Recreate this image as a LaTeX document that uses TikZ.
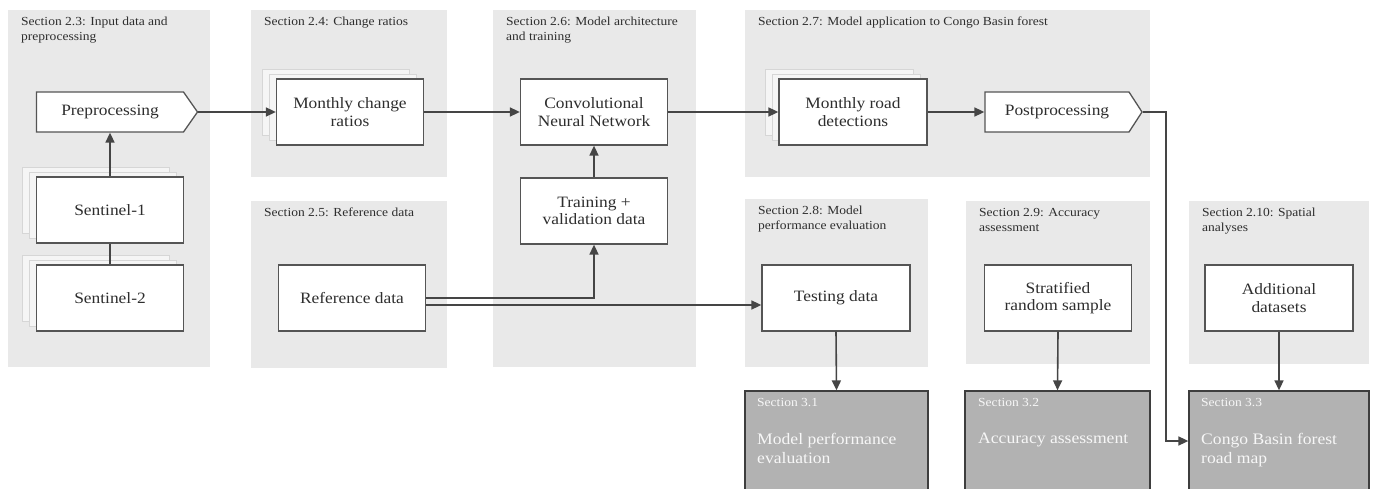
\documentclass[tikz,border=0pt]{standalone}
\usepackage{fontspec}
\setmainfont[FakeStretch=1.1]{Liberation Serif}
\usetikzlibrary{arrows.meta,shapes.symbols,shadows}
\definecolor{panelgray}{HTML}{E9E9E9}
\definecolor{boxline}{HTML}{555555}
\definecolor{linkgray}{HTML}{454545}
\definecolor{textgray}{HTML}{2E2E2E}
\definecolor{sheetfill}{HTML}{F5F5F5}
\definecolor{sheetline}{HTML}{D6D6D6}
\definecolor{resultfill}{HTML}{B2B2B2}
\definecolor{resultline}{HTML}{3E3E3E}
\definecolor{resulttext}{HTML}{F7F7F7}
\begin{document}
\begin{tikzpicture}[x=1pt,y=-1pt,
  panel/.style={fill=panelgray},
  seclabel/.style={anchor=north west,inner sep=0pt,align=left,text=textgray,
    font=\fontsize{12.3}{15}\selectfont},
  box/.style={draw=boxline,fill=white,line width=1.3pt,inner sep=0pt,align=center,
    text=textgray,font=\fontsize{15.8}{17.5}\selectfont},
  stack/.style={double copy shadow={shadow xshift=-7pt,shadow yshift=5pt,
    fill=sheetfill,draw=sheetline,line width=0.9pt}},
  arrowbox/.style={box,shape=signal,signal to=east,signal from=nowhere},
  result/.style={draw=resultline,fill=resultfill,line width=1.3pt},
  restag/.style={anchor=north west,inner sep=0pt,text=resulttext,
    font=\fontsize{12.3}{15}\selectfont},
  restitle/.style={anchor=north west,inner sep=0pt,align=left,text=resulttext,
    font=\fontsize{16}{19}\selectfont},
  link/.style={draw=linkgray,line width=1.6pt},
  arr/.style={link,-{Triangle[length=10pt,width=9pt]}}
]
\useasboundingbox (0,0) rectangle (1373,489);

% section panels
\fill[panel] (8,10) rectangle (210,367);
\fill[panel] (251,10) rectangle (447,177);
\fill[panel] (251,201) rectangle (447,368);
\fill[panel] (493,10) rectangle (696,367);
\fill[panel] (745,10) rectangle (1150,177);
\fill[panel] (745,199) rectangle (928,367);
\fill[panel] (966,201) rectangle (1150,364);
\fill[panel] (1189,201) rectangle (1369,364);

\node[seclabel] (l23) at (21,17) {Section 2.3: Input data and\\preprocessing};
\node[seclabel] (l24) at (264,17) {Section 2.4: Change ratios};
\node[seclabel] (l25) at (264,208) {Section 2.5: Reference data};
\node[seclabel] (l26) at (506,17) {Section 2.6: Model architecture\\and training};
\node[seclabel] (l27) at (758,17) {Section 2.7: Model application to Congo Basin forest};
\node[seclabel] (l28) at (758,206) {Section 2.8: Model\\performance evaluation};
\node[seclabel] (l29) at (979,208) {Section 2.9: Accuracy\\assessment};
\node[seclabel] (l210) at (1202,208) {Section 2.10: Spatial\\analyses};

% processing boxes
\node[arrowbox,signal pointer angle=110,minimum width=161pt,minimum height=40pt] (pre) at (110,112) {Preprocessing};
\node[box,stack,minimum width=147pt,minimum height=66pt] (s1) at (110,210) {Sentinel-1};
\node[box,stack,minimum width=147pt,minimum height=66pt] (s2) at (110,298) {Sentinel-2};
\node[box,stack,minimum width=147pt,minimum height=66pt] (mcr) at (350,112) {Monthly change\\ratios};
\node[box,minimum width=147pt,minimum height=66pt] (cnn) at (594,112) {Convolutional\\Neural Network};
\node[box,minimum width=147pt,minimum height=66pt] (train) at (594,211) {Training +\\validation data};
\node[box,stack,minimum width=148pt,minimum height=66pt] (mrd) at (853,112) {Monthly road\\detections};
\node[arrowbox,signal pointer angle=114,minimum width=157pt,minimum height=40pt] (post) at (1057,112) {Postprocessing};
\node[box,minimum width=147pt,minimum height=66pt] (ref) at (352,298) {Reference data};
\node[box,minimum width=148pt,minimum height=66pt] (test) at (836,298) {Testing data};
\node[box,minimum width=147pt,minimum height=66pt] (strat) at (1058,298) {Stratified\\random sample};
\node[box,minimum width=148pt,minimum height=66pt] (add) at (1279,298) {Additional\\datasets};

% result boxes
\node[result,minimum width=183pt,minimum height=100pt] (r31) at (836.5,441) {};
\node[result,minimum width=185pt,minimum height=100pt] (r32) at (1057.5,441) {};
\node[result,minimum width=180pt,minimum height=100pt] (r33) at (1279,441) {};
\node[restag] (t31) at (757,398) {Section 3.1};
\node[restag] (t32) at (978,398) {Section 3.2};
\node[restag] (t33) at (1201,398) {Section 3.3};
\node[restitle] (n31) at (757,433) {Model performance\\evaluation};
\node[restitle] (n32) at (978,433) {Accuracy assessment};
\node[restitle] (n33) at (1201,433) {Congo Basin forest\\road map};

% connectors
\draw[link] (s2.north) -- (s1.south);
\draw[arr] (s1.north) -- (s1.north |- pre.south);
\draw[arr] (pre.east) -- (mcr.west);
\draw[arr] (mcr.east) -- (cnn.west);
\draw[arr] (train.north) -- (cnn.south);
\draw[arr] (cnn.east) -- (mrd.west);
\draw[arr] (mrd.east) -- (post.west);
\coordinate (jog) at (1166,112);
\draw[arr] (post.east) -- (jog) |- (r33.west);
\draw[arr] (ref.east) -| (train.south);
\draw[arr] ([yshift=-7pt]ref.east) -- ([yshift=-7pt]ref.east -| test.west);
\draw[arr] (test.south) -- (r31.north);
\draw[arr] (strat.south) -- (r32.north);
\draw[arr] (add.south) -- (r33.north);
\end{tikzpicture}
\end{document}
